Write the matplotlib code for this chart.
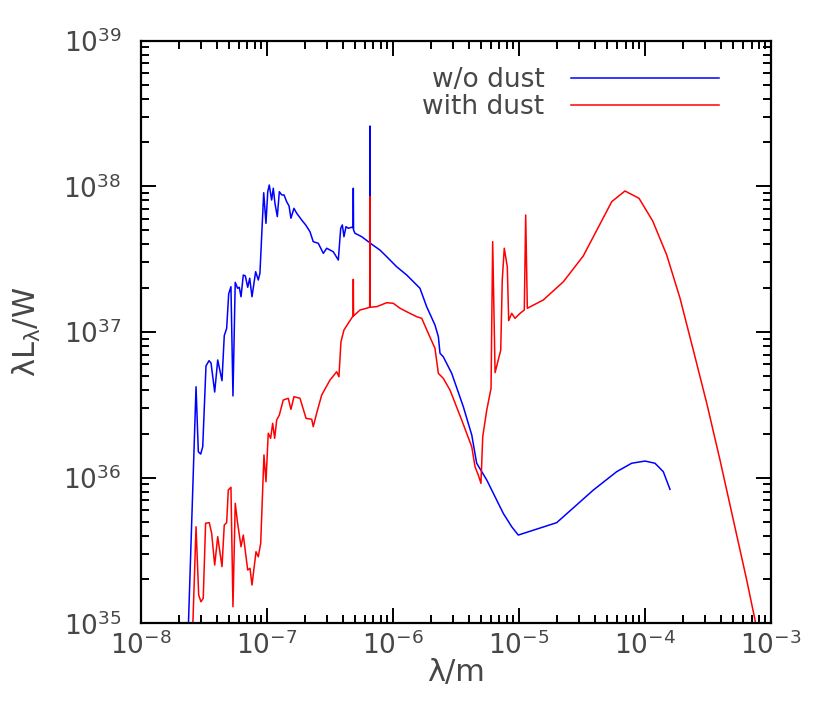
import matplotlib
matplotlib.use("Agg")
import matplotlib.pyplot as plt
import numpy as np
from matplotlib.lines import Line2D

# log10 of wavelength [m] and of lambda*L_lambda [W]
log_lam_nodust = [-7.625, -7.563, -7.545, -7.526, -7.510, -7.484, -7.460, -7.444, -7.415, -7.391,
                  -7.357, -7.339, -7.320, -7.304, -7.286, -7.270, -7.252, -7.233, -7.220, -7.206,
                  -7.188, -7.172, -7.153, -7.137, -7.119, -7.090, -7.069, -7.056, -7.026, -7.008,
                  -6.994, -6.982, -6.963, -6.950, -6.937, -6.918, -6.902, -6.883, -6.865, -6.844,
                  -6.825, -6.810, -6.786, -6.764, -6.725, -6.693, -6.659, -6.633, -6.593, -6.553,
                  -6.526, -6.474, -6.434, -6.415, -6.402, -6.389, -6.373, -6.355, -6.328, -6.317,
                  -6.315, -6.313, -6.302, -6.248, -6.196, -6.185, -6.183, -6.181, -6.103, -6.050,
                  -5.971, -5.891, -5.825, -5.786, -5.733, -5.667, -5.640, -5.627, -5.601, -5.534,
                  -5.442, -5.375, -5.336, -5.256, -5.125, -5.058, -5.006, -4.701, -4.410, -4.225,
                  -4.106, -4.000, -3.921, -3.855, -3.802]
log_L_nodust = [34.95, 36.624, 36.178, 36.162, 36.212, 36.767, 36.803, 36.787, 36.588, 36.808,
                36.666, 36.975, 37.025, 37.261, 37.311, 36.561, 37.341, 37.300, 37.307, 37.242,
                37.391, 37.385, 37.307, 37.369, 37.242, 37.414, 37.357, 37.403, 37.956, 37.746,
                37.963, 38.009, 37.906, 37.987, 37.884, 37.792, 37.963, 37.941, 37.941, 37.895,
                37.865, 37.781, 37.849, 37.815, 37.769, 37.735, 37.689, 37.620, 37.609, 37.540,
                37.575, 37.551, 37.494, 37.712, 37.735, 37.654, 37.723, 37.712, 37.719, 37.715,
                37.987, 37.700, 37.678, 37.654, 37.620, 37.615, 38.414, 37.610, 37.562, 37.517,
                37.448, 37.391, 37.334, 37.300, 37.174, 37.048, 36.968, 36.854, 36.830, 36.716,
                36.487, 36.293, 36.099, 35.984, 35.755, 35.663, 35.606, 35.691, 35.915, 36.041,
                36.099, 36.114, 36.099, 36.041, 35.920]

log_lam_dust = [-7.590, -7.563, -7.542, -7.524, -7.506, -7.487, -7.458, -7.439, -7.415, -7.391,
                -7.357, -7.339, -7.320, -7.307, -7.286, -7.270, -7.252, -7.233, -7.206, -7.188,
                -7.153, -7.135, -7.119, -7.087, -7.069, -7.050, -7.024, -7.008, -6.990, -6.971,
                -6.955, -6.939, -6.923, -6.902, -6.871, -6.831, -6.810, -6.786, -6.738, -6.690,
                -6.645, -6.633, -6.606, -6.566, -6.500, -6.447, -6.429, -6.413, -6.389, -6.355,
                -6.317, -6.315, -6.313, -6.262, -6.209, -6.185, -6.183, -6.181, -6.129, -6.050,
                -5.998, -5.944, -5.891, -5.812, -5.772, -5.720, -5.667, -5.640, -5.601, -5.548,
                -5.455, -5.375, -5.349, -5.323, -5.302, -5.288, -5.256, -5.222, -5.209, -5.190,
                -5.145, -5.133, -5.117, -5.093, -5.082, -5.058, -5.032, -4.992, -4.958, -4.947,
                -4.934, -4.807, -4.648, -4.490, -4.264, -4.159, -4.048, -3.939, -3.828, -3.722,
                -3.617, -3.510, -3.405, -3.299, -3.193, -3.127, -3.110]
log_L_dust = [34.95, 35.663, 35.194, 35.148, 35.172, 35.687, 35.691, 35.618, 35.400, 35.595,
              35.389, 35.675, 35.691, 35.915, 35.934, 35.114, 35.824, 35.687, 35.526, 35.606,
              35.366, 35.378, 35.263, 35.492, 35.457, 35.549, 36.156, 35.972, 36.305, 36.270,
              36.373, 36.270, 36.396, 36.430, 36.533, 36.545, 36.469, 36.556, 36.545, 36.407,
              36.401, 36.350, 36.442, 36.567, 36.670, 36.727, 36.693, 36.933, 37.014, 37.060,
              37.110, 37.362, 37.110, 37.151, 37.163, 37.170, 37.929, 37.170, 37.174, 37.201,
              37.197, 37.163, 37.139, 37.105, 37.094, 36.991, 36.888, 36.716, 36.682, 36.602,
              36.396, 36.212, 36.075, 36.018, 35.961, 36.281, 36.464, 36.613, 37.620, 36.721,
              36.876, 37.357, 37.575, 37.448, 37.078, 37.128, 37.094, 37.128, 37.151, 37.803,
              37.163, 37.220, 37.345, 37.522, 37.895, 37.968, 37.918, 37.762, 37.529, 37.231,
              36.876, 36.510, 36.121, 35.709, 35.297, 35.023, 34.90]

labels = ["w/o dust", "with dust"]
colors = ["#0000ff", "#ff0000"]

lam_nodust = 10.0 ** np.array(log_lam_nodust)
L_nodust = 10.0 ** np.array(log_L_nodust)
lam_dust = 10.0 ** np.array(log_lam_dust)
L_dust = 10.0 ** np.array(log_L_dust)

plt.rcParams["font.family"] = ["DejaVu Sans"]
plt.rcParams["mathtext.default"] = "regular"
txt = "#474747"

fig = plt.figure(figsize=(8.22, 7.06), dpi=100)
ax = fig.add_axes([0.1715, 0.1171, 0.938 - 0.1715, 0.9424 - 0.1171])

ax.plot(lam_nodust, L_nodust, color=colors[0], lw=1.1)
ax.plot(lam_dust, L_dust, color=colors[1], lw=1.1)

ax.set_xscale("log")
ax.set_yscale("log")
ax.set_xlim(1e-8, 1e-3)
ax.set_ylim(1e35, 1e39)

for s in ax.spines.values():
    s.set_linewidth(1.6)
ax.tick_params(which="both", direction="in", top=True, right=True, width=1.4, colors="black",
               labelcolor=txt, labelsize=19)
ax.tick_params(which="major", length=11)
ax.tick_params(which="minor", length=5.5)
ax.tick_params(axis="y", which="major", pad=14)
ax.tick_params(axis="x", which="major", pad=6)

ax.set_xlabel("λ/m", fontsize=22, color=txt)
ax.set_ylabel(r"$\lambda L_{\lambda}/W$", fontsize=22, color=txt)
ax.xaxis.set_label_coords(0.5, -0.06)
ax.yaxis.set_label_coords(-0.155, 0.5)

handles = [Line2D([], [], color=c, lw=1.1) for c in colors]
ax.legend(handles, labels, loc="upper right", bbox_to_anchor=(0.917, 0.955), frameon=False,
          markerfirst=False, fontsize=19, handlelength=5.6, handletextpad=1.0,
          labelspacing=0.05, borderpad=0, borderaxespad=0, labelcolor=txt)

fig.savefig("out.png", dpi=100)
